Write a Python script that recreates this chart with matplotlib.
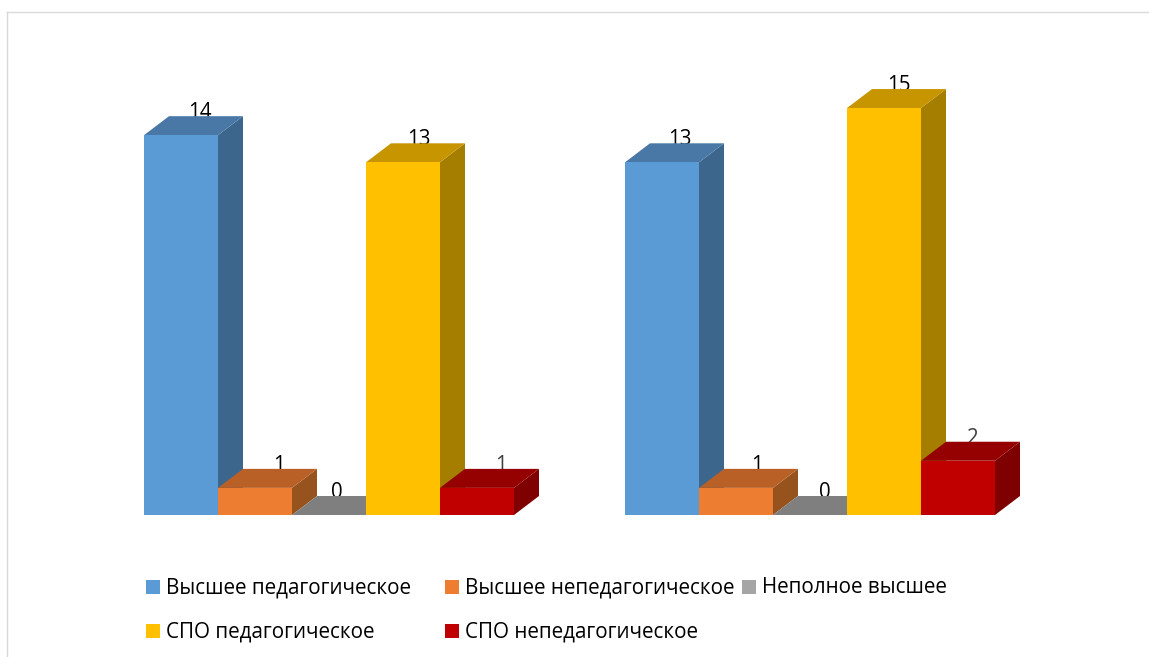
import matplotlib
matplotlib.use("Agg")
import matplotlib.pyplot as plt
from matplotlib.lines import Line2D
from matplotlib.patches import Polygon, Rectangle

W, H = 1149, 657

series_names = [
    "Высшее педагогическое",
    "Высшее непедагогическое",
    "Неполное высшее",
    "СПО педагогическое",
    "СПО непедагогическое",
]
group_1 = [14, 1, 0, 13, 1]
group_2 = [13, 1, 0, 15, 2]

front_colors = ["#5B9BD5", "#ED7D31", "#7F7F7F", "#FFC000", "#C00000"]
top_colors = ["#4A78A6", "#B86026", "#7F7F7F", "#C69500", "#950000"]
side_colors = ["#3C668C", "#97531E", "#6B6B6B", "#A57E00", "#7F0000"]
legend_colors = ["#5B9BD5", "#ED7D31", "#A5A5A5", "#FFC000", "#C00000"]

# label shift from the bar centre, px
shift_1 = [19, 24, 8, 16, 24]
shift_2 = [18, 21, 15, 15, 15]
label_colors_1 = ["black", "black", "black", "black", "#404040"]
label_colors_2 = ["black", "black", "black", "black", "#404040"]

plt.rcParams["font.family"] = ["Open Sans", "DejaVu Sans"]

fig = plt.figure(figsize=(W / 100, H / 100), dpi=100)
ax = fig.add_axes([144 / W, (H - 515) / H, 851 / W, 503 / H])
ax.set_xlim(0, 11.5)
ax.set_ylim(0, 503 / 27.13)
ax.axis("off")

# depth of the fake 3d boxes, in data units
dx = 25 / 74
dy = 19 / 27.13


def draw_group(values, start, shifts, label_colors):
    for i, v in enumerate(values):
        x = start + i
        top = [(x, v), (x + 1, v), (x + 1 + dx, v + dy), (x + dx, v + dy)]
        side = [(x + 1, 0), (x + 1 + dx, dy), (x + 1 + dx, v + dy), (x + 1, v)]
        z = 2 + i
        if v > 0:
            ax.add_patch(Polygon(side, closed=True, fc=side_colors[i], ec="none", zorder=z, clip_on=False))
        ax.add_patch(Polygon(top, closed=True, fc=top_colors[i], ec="none", zorder=z, clip_on=False))
        ax.bar(x, v, width=1, align="edge", color=front_colors[i], zorder=z, clip_on=False)
        ax.annotate(
            str(v),
            xy=(x + 0.5, v + dy),
            xytext=(shifts[i], -2),
            textcoords="offset pixels",
            ha="center",
            va="baseline",
            fontsize=14.8,
            color=label_colors[i],
            zorder=1,
            annotation_clip=False,
        )


draw_group(group_1, 0, shift_1, label_colors_1)
draw_group(group_2, 6.5, shift_2, label_colors_2)

# legend placed by hand, Excel style wrapping
legend_x = [146, 445, 742, 146, 445]
legend_y = [586.5, 586.5, 586.5, 631, 631]
for name, c, lx, ly in zip(series_names, legend_colors, legend_x, legend_y):
    fig.add_artist(Rectangle((lx / W, (H - ly - 7) / H), 14 / W, 14 / H, fc=c, ec="none", transform=fig.transFigure))
    fig.text((lx + 20) / W, (H - ly - 1) / H, name, fontsize=14.9, color="black", ha="left", va="center")

# chart frame
frame = "#D9D9D9"
fig.add_artist(Line2D([7 / W, 7 / W], [0, (H - 11.5) / H], color=frame, lw=1.0))
fig.add_artist(Line2D([7 / W, 1], [(H - 11.5) / H, (H - 11.5) / H], color=frame, lw=1.0))

fig.savefig("out.png", dpi=100)
